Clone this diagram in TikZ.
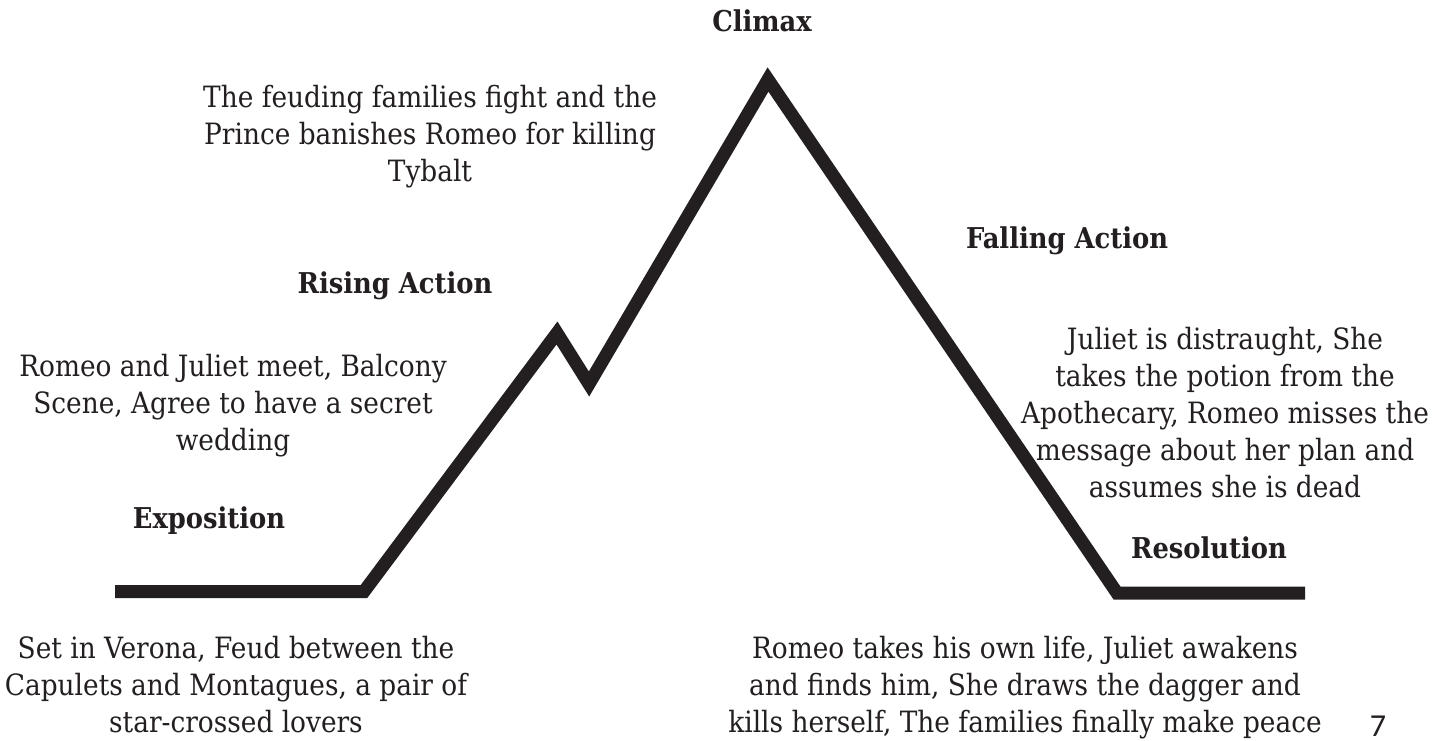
\documentclass[tikz,border=0pt]{standalone}
\usepackage{fontspec}
\setmainfont{DejaVu Serif Condensed}
\newfontfamily\pagenumfont{Carlito}
\definecolor{ink}{HTML}{231F20}
\begin{document}
\begin{tikzpicture}[x=0.75pt,y=-0.75pt,
  plotline/.style={line width=9.75pt,draw=ink,line join=miter,miter limit=20},
  head/.style={font=\fontsize{21.5}{27}\selectfont\bfseries,text=ink,inner sep=0pt},
  desc/.style={font=\fontsize{22}{27.75}\selectfont,text=ink,align=center,inner sep=0pt}]
\useasboundingbox[fill=white] (0,0) rectangle (1453,740);
\coordinate (p0) at (115,591.5);
\coordinate (p1) at (364,591.5);
\coordinate (p2) at (557,333);
\coordinate (p3) at (589,384);
\coordinate (p4) at (768,79.5);
\coordinate (p5) at (1117,593);
\coordinate (p6) at (1305,593);
\draw[plotline] (p0) -- (p1) -- (p2) -- (p3) -- (p4) -- (p5) -- (p6);
\node[head,anchor=base] (climax) at (762,31) {Climax};
\node[head,anchor=base] (rising) at (395,293) {Rising Action};
\node[head,anchor=base] (expo) at (209,528) {Exposition};
\node[head,anchor=base] (falling) at (1067,248) {Falling Action};
\node[head,anchor=base] (resol) at (1209,558) {Resolution};
\node[desc] (climaxtext) at (430,137) {The feuding families fight and the\\Prince banishes Romeo for killing\\Tybalt};
\node[desc] (risingtext) at (233,406) {Romeo and Juliet meet, Balcony\\Scene, Agree to have a secret\\wedding};
\node[desc] (expotext) at (236,685) {Set in Verona, Feud between the\\Capulets and Montagues, a pair of\\star-crossed lovers};
\node[desc] (fallingtext) at (1225,413) {Juliet is distraught, She\\takes the potion from the\\Apothecary, Romeo misses the\\message about her plan and\\assumes she is dead};
\node[desc] (resoltext) at (1025,688) {Romeo takes his own life, Juliet awakens\\and finds him, She draws the dagger and\\kills herself, The families finally make peace};
\node[font=\pagenumfont\fontsize{24}{28}\selectfont,text=ink,anchor=base,inner sep=0pt] (pagenum) at (1378,736) {7};
\end{tikzpicture}
\end{document}
